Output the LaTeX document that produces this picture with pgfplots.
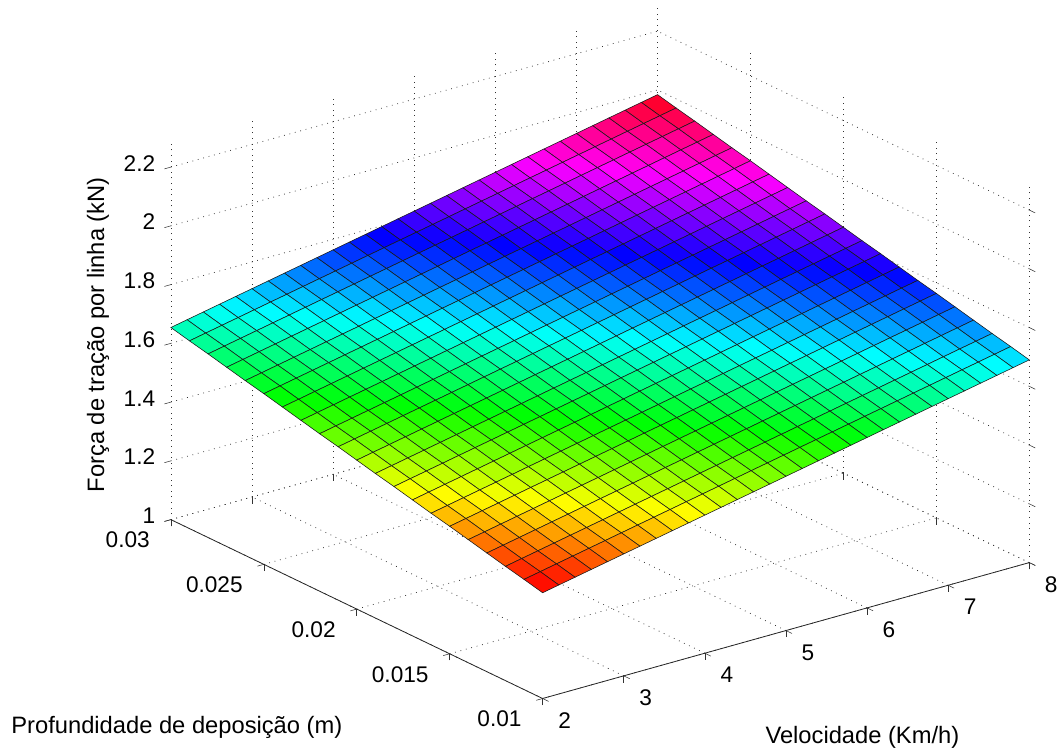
\documentclass[border=0pt]{standalone}
\usepackage{fontspec}
\setmainfont{Liberation Sans}
\usepackage{pgfplots}
\pgfplotsset{compat=1.18}
\newcommand\lab{\fontsize{17}{20}\selectfont}
\newcommand\alab{\fontsize{17.8}{20}\selectfont}
\begin{document}
\begin{tikzpicture}
\begin{axis}[
 x={(60.875pt,17pt)}, y={(-139.5pt,67.125pt)}, z={(0pt,220.5pt)},
 xmin=2,xmax=8,ymin=1,ymax=3,zmin=1,zmax=2.285,
 axis line style={draw=none},
 grid=major, grid style={black!80, line width=.55pt, dash pattern=on .6pt off 3.6pt},
 tick align=outside, tick style={black!80,line width=.4pt}, major tick length=5pt,
 xtick pos=left, ytick pos=left, ztick pos=left,
 xtick={2,3,4,5,6,7,8}, xticklabels={2,3,4,5,6,7,8},
 ytick={1,1.5,2,2.5,3}, yticklabels={0.01,0.015,0.02,0.025,0.03},
 ztick={1,1.2,1.4,1.6,1.8,2,2.2}, zticklabels={1,1.2,1.4,1.6,1.8,2,2.2},
 tick label style={font=\lab},
 xticklabel style={anchor=center,xshift=12pt,yshift=-14.25pt},
 yticklabel style={anchor=east,xshift=-7.5pt,yshift=-14pt},
 zticklabel style={anchor=east,xshift=-3.75pt,yshift=.75pt},
 clip=false,
 colormap={hsvm}{rgb255(0)=(255,0,0) rgb255(1)=(255,255,0) rgb255(2)=(0,255,0) rgb255(3)=(0,255,255) rgb255(4)=(0,0,255) rgb255(5)=(255,0,255) rgb255(6)=(255,0,0)},
 point meta min=1.37, point meta max=1.99,
]
\addplot3[surf, shader=faceted, faceted color=black!90, line width=.42pt, mesh/cols=31, point meta=z] table {
x y z
2 1 1.36
2.2 1 1.371
2.4 1 1.382
2.6 1 1.393
2.8 1 1.404
3 1 1.415
3.2 1 1.426
3.4 1 1.437
3.6 1 1.448
3.8 1 1.459
4 1 1.47
4.2 1 1.481
4.4 1 1.492
4.6 1 1.503
4.8 1 1.514
5 1 1.525
5.2 1 1.536
5.4 1 1.547
5.6 1 1.558
5.8 1 1.569
6 1 1.58
6.2 1 1.591
6.4 1 1.602
6.6 1 1.613
6.8 1 1.624
7 1 1.635
7.2 1 1.646
7.4 1 1.657
7.6 1 1.668
7.8 1 1.679
8 1 1.69
2 1.1 1.375
2.2 1.1 1.386
2.4 1.1 1.397
2.6 1.1 1.408
2.8 1.1 1.419
3 1.1 1.43
3.2 1.1 1.441
3.4 1.1 1.452
3.6 1.1 1.463
3.8 1.1 1.474
4 1.1 1.485
4.2 1.1 1.496
4.4 1.1 1.507
4.6 1.1 1.518
4.8 1.1 1.529
5 1.1 1.54
5.2 1.1 1.551
5.4 1.1 1.562
5.6 1.1 1.573
5.8 1.1 1.584
6 1.1 1.595
6.2 1.1 1.606
6.4 1.1 1.617
6.6 1.1 1.628
6.8 1.1 1.639
7 1.1 1.65
7.2 1.1 1.661
7.4 1.1 1.672
7.6 1.1 1.683
7.8 1.1 1.694
8 1.1 1.705
2 1.2 1.389
2.2 1.2 1.4
2.4 1.2 1.411
2.6 1.2 1.422
2.8 1.2 1.433
3 1.2 1.444
3.2 1.2 1.455
3.4 1.2 1.466
3.6 1.2 1.477
3.8 1.2 1.488
4 1.2 1.499
4.2 1.2 1.51
4.4 1.2 1.521
4.6 1.2 1.532
4.8 1.2 1.543
5 1.2 1.554
5.2 1.2 1.565
5.4 1.2 1.576
5.6 1.2 1.587
5.8 1.2 1.598
6 1.2 1.609
6.2 1.2 1.62
6.4 1.2 1.631
6.6 1.2 1.642
6.8 1.2 1.653
7 1.2 1.664
7.2 1.2 1.675
7.4 1.2 1.686
7.6 1.2 1.697
7.8 1.2 1.708
8 1.2 1.719
2 1.3 1.404
2.2 1.3 1.415
2.4 1.3 1.426
2.6 1.3 1.437
2.8 1.3 1.448
3 1.3 1.459
3.2 1.3 1.47
3.4 1.3 1.481
3.6 1.3 1.492
3.8 1.3 1.503
4 1.3 1.514
4.2 1.3 1.525
4.4 1.3 1.536
4.6 1.3 1.547
4.8 1.3 1.558
5 1.3 1.569
5.2 1.3 1.58
5.4 1.3 1.591
5.6 1.3 1.602
5.8 1.3 1.613
6 1.3 1.624
6.2 1.3 1.635
6.4 1.3 1.646
6.6 1.3 1.657
6.8 1.3 1.668
7 1.3 1.679
7.2 1.3 1.69
7.4 1.3 1.701
7.6 1.3 1.712
7.8 1.3 1.723
8 1.3 1.734
2 1.4 1.419
2.2 1.4 1.43
2.4 1.4 1.441
2.6 1.4 1.452
2.8 1.4 1.463
3 1.4 1.474
3.2 1.4 1.485
3.4 1.4 1.496
3.6 1.4 1.507
3.8 1.4 1.518
4 1.4 1.529
4.2 1.4 1.54
4.4 1.4 1.551
4.6 1.4 1.562
4.8 1.4 1.573
5 1.4 1.584
5.2 1.4 1.595
5.4 1.4 1.606
5.6 1.4 1.617
5.8 1.4 1.628
6 1.4 1.639
6.2 1.4 1.65
6.4 1.4 1.661
6.6 1.4 1.672
6.8 1.4 1.683
7 1.4 1.694
7.2 1.4 1.705
7.4 1.4 1.716
7.6 1.4 1.727
7.8 1.4 1.738
8 1.4 1.749
2 1.5 1.434
2.2 1.5 1.445
2.4 1.5 1.456
2.6 1.5 1.467
2.8 1.5 1.478
3 1.5 1.489
3.2 1.5 1.5
3.4 1.5 1.511
3.6 1.5 1.522
3.8 1.5 1.533
4 1.5 1.544
4.2 1.5 1.555
4.4 1.5 1.566
4.6 1.5 1.577
4.8 1.5 1.588
5 1.5 1.599
5.2 1.5 1.61
5.4 1.5 1.621
5.6 1.5 1.632
5.8 1.5 1.643
6 1.5 1.654
6.2 1.5 1.665
6.4 1.5 1.676
6.6 1.5 1.687
6.8 1.5 1.698
7 1.5 1.709
7.2 1.5 1.72
7.4 1.5 1.731
7.6 1.5 1.742
7.8 1.5 1.753
8 1.5 1.764
2 1.6 1.448
2.2 1.6 1.459
2.4 1.6 1.47
2.6 1.6 1.481
2.8 1.6 1.492
3 1.6 1.503
3.2 1.6 1.514
3.4 1.6 1.525
3.6 1.6 1.536
3.8 1.6 1.547
4 1.6 1.558
4.2 1.6 1.569
4.4 1.6 1.58
4.6 1.6 1.591
4.8 1.6 1.602
5 1.6 1.613
5.2 1.6 1.624
5.4 1.6 1.635
5.6 1.6 1.646
5.8 1.6 1.657
6 1.6 1.668
6.2 1.6 1.679
6.4 1.6 1.69
6.6 1.6 1.701
6.8 1.6 1.712
7 1.6 1.723
7.2 1.6 1.734
7.4 1.6 1.745
7.6 1.6 1.756
7.8 1.6 1.767
8 1.6 1.778
2 1.7 1.463
2.2 1.7 1.474
2.4 1.7 1.485
2.6 1.7 1.496
2.8 1.7 1.507
3 1.7 1.518
3.2 1.7 1.529
3.4 1.7 1.54
3.6 1.7 1.551
3.8 1.7 1.562
4 1.7 1.573
4.2 1.7 1.584
4.4 1.7 1.595
4.6 1.7 1.606
4.8 1.7 1.617
5 1.7 1.628
5.2 1.7 1.639
5.4 1.7 1.65
5.6 1.7 1.661
5.8 1.7 1.672
6 1.7 1.683
6.2 1.7 1.694
6.4 1.7 1.705
6.6 1.7 1.716
6.8 1.7 1.727
7 1.7 1.738
7.2 1.7 1.749
7.4 1.7 1.76
7.6 1.7 1.771
7.8 1.7 1.782
8 1.7 1.793
2 1.8 1.478
2.2 1.8 1.489
2.4 1.8 1.5
2.6 1.8 1.511
2.8 1.8 1.522
3 1.8 1.533
3.2 1.8 1.544
3.4 1.8 1.555
3.6 1.8 1.566
3.8 1.8 1.577
4 1.8 1.588
4.2 1.8 1.599
4.4 1.8 1.61
4.6 1.8 1.621
4.8 1.8 1.632
5 1.8 1.643
5.2 1.8 1.654
5.4 1.8 1.665
5.6 1.8 1.676
5.8 1.8 1.687
6 1.8 1.698
6.2 1.8 1.709
6.4 1.8 1.72
6.6 1.8 1.731
6.8 1.8 1.742
7 1.8 1.753
7.2 1.8 1.764
7.4 1.8 1.775
7.6 1.8 1.786
7.8 1.8 1.797
8 1.8 1.808
2 1.9 1.492
2.2 1.9 1.503
2.4 1.9 1.514
2.6 1.9 1.525
2.8 1.9 1.536
3 1.9 1.547
3.2 1.9 1.558
3.4 1.9 1.569
3.6 1.9 1.58
3.8 1.9 1.591
4 1.9 1.602
4.2 1.9 1.613
4.4 1.9 1.624
4.6 1.9 1.635
4.8 1.9 1.646
5 1.9 1.657
5.2 1.9 1.668
5.4 1.9 1.679
5.6 1.9 1.69
5.8 1.9 1.701
6 1.9 1.712
6.2 1.9 1.723
6.4 1.9 1.734
6.6 1.9 1.745
6.8 1.9 1.756
7 1.9 1.767
7.2 1.9 1.778
7.4 1.9 1.789
7.6 1.9 1.8
7.8 1.9 1.811
8 1.9 1.822
2 2 1.507
2.2 2 1.518
2.4 2 1.529
2.6 2 1.54
2.8 2 1.551
3 2 1.562
3.2 2 1.573
3.4 2 1.584
3.6 2 1.595
3.8 2 1.606
4 2 1.617
4.2 2 1.628
4.4 2 1.639
4.6 2 1.65
4.8 2 1.661
5 2 1.672
5.2 2 1.683
5.4 2 1.694
5.6 2 1.705
5.8 2 1.716
6 2 1.727
6.2 2 1.738
6.4 2 1.749
6.6 2 1.76
6.8 2 1.771
7 2 1.782
7.2 2 1.793
7.4 2 1.804
7.6 2 1.815
7.8 2 1.826
8 2 1.837
2 2.1 1.522
2.2 2.1 1.533
2.4 2.1 1.544
2.6 2.1 1.555
2.8 2.1 1.566
3 2.1 1.577
3.2 2.1 1.588
3.4 2.1 1.599
3.6 2.1 1.61
3.8 2.1 1.621
4 2.1 1.632
4.2 2.1 1.643
4.4 2.1 1.654
4.6 2.1 1.665
4.8 2.1 1.676
5 2.1 1.687
5.2 2.1 1.698
5.4 2.1 1.709
5.6 2.1 1.72
5.8 2.1 1.731
6 2.1 1.742
6.2 2.1 1.753
6.4 2.1 1.764
6.6 2.1 1.775
6.8 2.1 1.786
7 2.1 1.797
7.2 2.1 1.808
7.4 2.1 1.819
7.6 2.1 1.83
7.8 2.1 1.841
8 2.1 1.852
2 2.2 1.536
2.2 2.2 1.547
2.4 2.2 1.558
2.6 2.2 1.569
2.8 2.2 1.58
3 2.2 1.591
3.2 2.2 1.602
3.4 2.2 1.613
3.6 2.2 1.624
3.8 2.2 1.635
4 2.2 1.646
4.2 2.2 1.657
4.4 2.2 1.668
4.6 2.2 1.679
4.8 2.2 1.69
5 2.2 1.701
5.2 2.2 1.712
5.4 2.2 1.723
5.6 2.2 1.734
5.8 2.2 1.745
6 2.2 1.756
6.2 2.2 1.767
6.4 2.2 1.778
6.6 2.2 1.789
6.8 2.2 1.8
7 2.2 1.811
7.2 2.2 1.822
7.4 2.2 1.833
7.6 2.2 1.844
7.8 2.2 1.855
8 2.2 1.866
2 2.3 1.551
2.2 2.3 1.562
2.4 2.3 1.573
2.6 2.3 1.584
2.8 2.3 1.595
3 2.3 1.606
3.2 2.3 1.617
3.4 2.3 1.628
3.6 2.3 1.639
3.8 2.3 1.65
4 2.3 1.661
4.2 2.3 1.672
4.4 2.3 1.683
4.6 2.3 1.694
4.8 2.3 1.705
5 2.3 1.716
5.2 2.3 1.727
5.4 2.3 1.738
5.6 2.3 1.749
5.8 2.3 1.76
6 2.3 1.771
6.2 2.3 1.782
6.4 2.3 1.793
6.6 2.3 1.804
6.8 2.3 1.815
7 2.3 1.826
7.2 2.3 1.837
7.4 2.3 1.848
7.6 2.3 1.859
7.8 2.3 1.87
8 2.3 1.881
2 2.4 1.566
2.2 2.4 1.577
2.4 2.4 1.588
2.6 2.4 1.599
2.8 2.4 1.61
3 2.4 1.621
3.2 2.4 1.632
3.4 2.4 1.643
3.6 2.4 1.654
3.8 2.4 1.665
4 2.4 1.676
4.2 2.4 1.687
4.4 2.4 1.698
4.6 2.4 1.709
4.8 2.4 1.72
5 2.4 1.731
5.2 2.4 1.742
5.4 2.4 1.753
5.6 2.4 1.764
5.8 2.4 1.775
6 2.4 1.786
6.2 2.4 1.797
6.4 2.4 1.808
6.6 2.4 1.819
6.8 2.4 1.83
7 2.4 1.841
7.2 2.4 1.852
7.4 2.4 1.863
7.6 2.4 1.874
7.8 2.4 1.885
8 2.4 1.896
2 2.5 1.581
2.2 2.5 1.592
2.4 2.5 1.603
2.6 2.5 1.614
2.8 2.5 1.625
3 2.5 1.636
3.2 2.5 1.647
3.4 2.5 1.658
3.6 2.5 1.669
3.8 2.5 1.68
4 2.5 1.691
4.2 2.5 1.702
4.4 2.5 1.713
4.6 2.5 1.724
4.8 2.5 1.735
5 2.5 1.746
5.2 2.5 1.757
5.4 2.5 1.768
5.6 2.5 1.779
5.8 2.5 1.79
6 2.5 1.801
6.2 2.5 1.812
6.4 2.5 1.823
6.6 2.5 1.834
6.8 2.5 1.845
7 2.5 1.856
7.2 2.5 1.867
7.4 2.5 1.878
7.6 2.5 1.889
7.8 2.5 1.9
8 2.5 1.911
2 2.6 1.595
2.2 2.6 1.606
2.4 2.6 1.617
2.6 2.6 1.628
2.8 2.6 1.639
3 2.6 1.65
3.2 2.6 1.661
3.4 2.6 1.672
3.6 2.6 1.683
3.8 2.6 1.694
4 2.6 1.705
4.2 2.6 1.716
4.4 2.6 1.727
4.6 2.6 1.738
4.8 2.6 1.749
5 2.6 1.76
5.2 2.6 1.771
5.4 2.6 1.782
5.6 2.6 1.793
5.8 2.6 1.804
6 2.6 1.815
6.2 2.6 1.826
6.4 2.6 1.837
6.6 2.6 1.848
6.8 2.6 1.859
7 2.6 1.87
7.2 2.6 1.881
7.4 2.6 1.892
7.6 2.6 1.903
7.8 2.6 1.914
8 2.6 1.925
2 2.7 1.61
2.2 2.7 1.621
2.4 2.7 1.632
2.6 2.7 1.643
2.8 2.7 1.654
3 2.7 1.665
3.2 2.7 1.676
3.4 2.7 1.687
3.6 2.7 1.698
3.8 2.7 1.709
4 2.7 1.72
4.2 2.7 1.731
4.4 2.7 1.742
4.6 2.7 1.753
4.8 2.7 1.764
5 2.7 1.775
5.2 2.7 1.786
5.4 2.7 1.797
5.6 2.7 1.808
5.8 2.7 1.819
6 2.7 1.83
6.2 2.7 1.841
6.4 2.7 1.852
6.6 2.7 1.863
6.8 2.7 1.874
7 2.7 1.885
7.2 2.7 1.896
7.4 2.7 1.907
7.6 2.7 1.918
7.8 2.7 1.929
8 2.7 1.94
2 2.8 1.625
2.2 2.8 1.636
2.4 2.8 1.647
2.6 2.8 1.658
2.8 2.8 1.669
3 2.8 1.68
3.2 2.8 1.691
3.4 2.8 1.702
3.6 2.8 1.713
3.8 2.8 1.724
4 2.8 1.735
4.2 2.8 1.746
4.4 2.8 1.757
4.6 2.8 1.768
4.8 2.8 1.779
5 2.8 1.79
5.2 2.8 1.801
5.4 2.8 1.812
5.6 2.8 1.823
5.8 2.8 1.834
6 2.8 1.845
6.2 2.8 1.856
6.4 2.8 1.867
6.6 2.8 1.878
6.8 2.8 1.889
7 2.8 1.9
7.2 2.8 1.911
7.4 2.8 1.922
7.6 2.8 1.933
7.8 2.8 1.944
8 2.8 1.955
2 2.9 1.639
2.2 2.9 1.65
2.4 2.9 1.661
2.6 2.9 1.672
2.8 2.9 1.683
3 2.9 1.694
3.2 2.9 1.705
3.4 2.9 1.716
3.6 2.9 1.727
3.8 2.9 1.738
4 2.9 1.749
4.2 2.9 1.76
4.4 2.9 1.771
4.6 2.9 1.782
4.8 2.9 1.793
5 2.9 1.804
5.2 2.9 1.815
5.4 2.9 1.826
5.6 2.9 1.837
5.8 2.9 1.848
6 2.9 1.859
6.2 2.9 1.87
6.4 2.9 1.881
6.6 2.9 1.892
6.8 2.9 1.903
7 2.9 1.914
7.2 2.9 1.925
7.4 2.9 1.936
7.6 2.9 1.947
7.8 2.9 1.958
8 2.9 1.969
2 3 1.654
2.2 3 1.665
2.4 3 1.676
2.6 3 1.687
2.8 3 1.698
3 3 1.709
3.2 3 1.72
3.4 3 1.731
3.6 3 1.742
3.8 3 1.753
4 3 1.764
4.2 3 1.775
4.4 3 1.786
4.6 3 1.797
4.8 3 1.808
5 3 1.819
5.2 3 1.83
5.4 3 1.841
5.6 3 1.852
5.8 3 1.863
6 3 1.874
6.2 3 1.885
6.4 3 1.896
6.6 3 1.907
6.8 3 1.918
7 3 1.929
7.2 3 1.94
7.4 3 1.951
7.6 3 1.962
7.8 3 1.973
8 3 1.984
};
\coordinate (O) at (axis cs:2,1,1);
\draw[black!85,line width=.6pt] (axis cs:8,1,1)--(axis cs:2,1,1)--(axis cs:2,3,1);
\end{axis}
\coordinate (TL) at ([shift={(-407.25pt,524.25pt)}]O);
\useasboundingbox (TL) rectangle ([shift={(796.5pt,-563.25pt)}]TL);
\node[font=\alab] at ([shift={(132.75pt,-546pt)}]TL) {Profundidade de deposição (m)};
\node[font=\alab] at ([shift={(647.25pt,-553.5pt)}]TL) {Velocidade (Km/h)};
\node[font=\alab,rotate=90] at ([shift={(73.5pt,-251.25pt)}]TL) {Força de tração por linha (kN)};
\end{tikzpicture}
\end{document}
